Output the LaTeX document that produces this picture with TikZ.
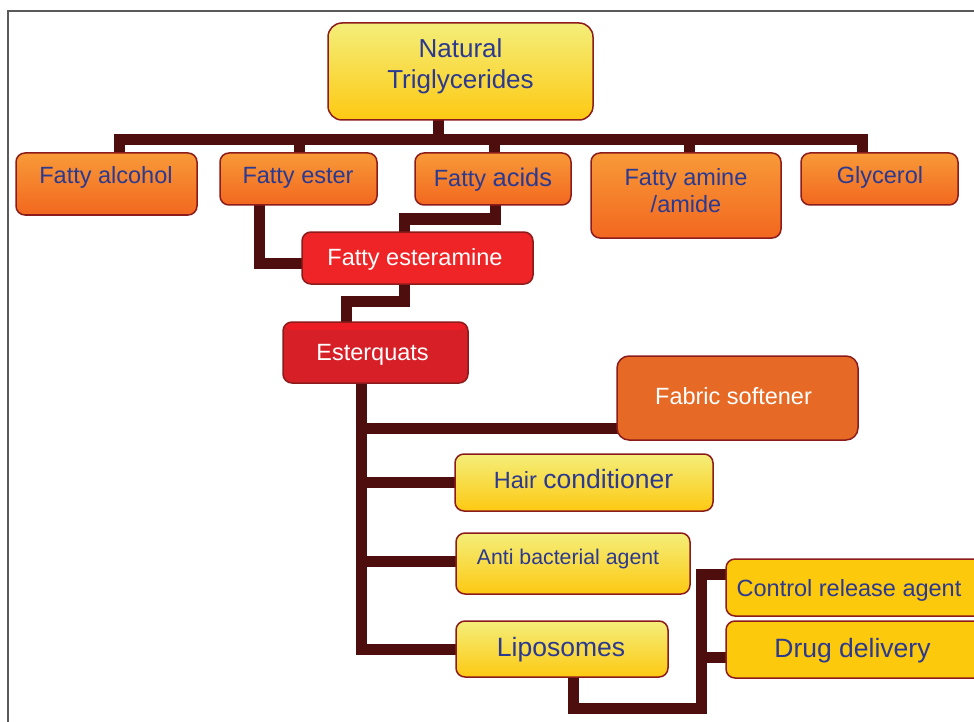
\documentclass[tikz,border=0pt]{standalone}
\usepackage{fontspec}
\setmainfont{Liberation Sans}
\usetikzlibrary{calc}
\definecolor{tblue}{HTML}{2B3990}
\definecolor{bord}{HTML}{8C1B1B}
\definecolor{conn}{HTML}{4E0E0E}
\definecolor{oTop}{HTML}{F89A38}
\definecolor{oBot}{HTML}{F2671F}
\definecolor{yTop}{HTML}{F4EE7A}
\definecolor{yBot}{HTML}{FDC912}
\definecolor{gold}{HTML}{FDC90C}
\definecolor{esred}{HTML}{EE2427}
\definecolor{eqred}{HTML}{D71F27}
\definecolor{eqtop}{HTML}{EC1C24}
\definecolor{fab}{HTML}{E66A26}
\definecolor{framec}{HTML}{5A5A5A}
\newcommand\mkbox[6]{%
  \node[#6, minimum width={(#4-#2)*1pt}, minimum height={(#5-#3)*1pt}]
    (#1) at ({(#2+#4)/2},{(#3+#5)/2}) {};}
\begin{document}
\begin{tikzpicture}[x=1pt,y=-1pt,
  box/.style={draw=bord, line width=1.5pt, rounded corners=9pt, inner sep=0pt},
  obox/.style={box, top color=oTop, bottom color=oBot},
  ybox/.style={box, top color=yTop, bottom color=yBot},
  gbox/.style={box, fill=gold},
  rbox/.style={box, fill=esred},
  eqbox/.style={box, fill=eqred, path picture={\fill[eqtop] (path picture bounding box.north west) rectangle ([yshift=-8pt]path picture bounding box.north east);}},
  fbox/.style={box, fill=fab},
  bt/.style={text=tblue, anchor=base, inner sep=0pt},
  wt/.style={text=white, anchor=base, inner sep=0pt},
  wire/.style={draw=conn, line width=11pt, line join=miter, line cap=butt},
  fnorm/.style={font=\fontsize{23.5}{28}\selectfont},
  fbig/.style={font=\fontsize{26.5}{31}\selectfont},
  fsmall/.style={font=\fontsize{21.3}{26}\selectfont}
]
\useasboundingbox (0,0) rectangle (974,722);
\clip (0,0) rectangle (974,722);
\fill[white] (0,0) rectangle (974,722);
\draw[framec, line width=1.6pt] (8,740) -- (8,11) -- (990,11);

% connection points
\coordinate (busL) at (119,140);
\coordinate (busR) at (862.5,140);

% connectors (drawn behind the boxes)
\draw[wire] (438.5,110) -- (438.5,140);
\draw[wire] (119,160) -- (busL) -- (busR) -- (862.5,160);
\draw[wire] (299,140) -- (299,160);
\draw[wire] (494.5,140) -- (494.5,160);
\draw[wire] (689,140) -- (689,160);
\draw[wire] (259,195) -- (259,263) -- (310,263);
\draw[wire] (495,195) -- (495,219) -- (404,219) -- (404,240);
\draw[wire] (404,275) -- (404,301) -- (346,301) -- (346,330);
\draw[wire] (361,375) -- (361,654.5);
\draw[wire] (355.5,428.5) -- (625,428.5);
\draw[wire] (361,482.5) -- (463,482.5);
\draw[wire] (361,561.5) -- (463,561.5);
\draw[wire] (355.5,649) -- (463,649);
\draw[wire] (573,670) -- (573,708.5) -- (701,708.5) -- (701,574.5) -- (734,574.5);
\draw[wire] (701,657.5) -- (734,657.5);

% boxes
\mkbox{root}{328}{23}{593}{120}{ybox,rounded corners=14pt}
\mkbox{falc}{16}{153}{197}{215}{obox}
\mkbox{fest}{220}{153}{377}{205}{obox}
\mkbox{facid}{415}{153}{571}{205}{obox}
\mkbox{famine}{591}{153}{781}{238}{obox}
\mkbox{glyc}{801}{153}{958}{205}{obox}
\mkbox{esam}{302}{232}{533}{284}{rbox}
\mkbox{esq}{283}{322}{468}{383}{eqbox}
\mkbox{fabric}{617}{356}{858}{440}{fbox,rounded corners=12pt}
\mkbox{hair}{455}{454}{713}{511}{ybox}
\mkbox{anti}{456}{533}{690}{594}{ybox}
\mkbox{lipo}{456}{621}{668}{677}{ybox}
\mkbox{ctrl}{726}{559}{990}{616}{gbox}
\mkbox{drug}{726}{621}{990}{678}{gbox}

% texts
\node[bt, anchor=center, align=center, font=\fontsize{26}{31}\selectfont] (roott) at (460.5,66.75) {Natural\\Triglycerides};
\node[bt, fnorm] (falct) at (106,184) {Fatty alcohol};
\node[bt, fnorm] (festt) at (298,184) {Fatty ester};
\node[bt, fnorm] (facidt) at (493,186) {Fatty {\fontsize{25.5}{30}\selectfont acids}};
\node[bt, anchor=center, align=center, font=\fontsize{23.5}{27}\selectfont] (faminet) at (686,190.6) {Fatty amine\\/amide};
\node[bt, fnorm] (glyct) at (880,184) {Glycerol};
\node[wt, fnorm] (esamt) at (415,265) {Fatty esteramine};
\node[wt, fnorm] (esqt) at (372.5,360) {Esterquats};
\node[wt, fnorm] (fabrict) at (733.5,404) {Fabric softener};
\node[bt, fnorm] (hairt) at (583.5,488) {Hair {\fontsize{26.5}{31}\selectfont conditioner}};
\node[bt, fsmall] (antit) at (568,564) {Anti bacterial agent};
\node[bt, fbig] (lipot) at (561,656) {Liposomes};
\node[bt, fnorm] (ctrlt) at (849,596) {Control release agent};
\node[bt, fbig] (drugt) at (852.5,657) {Drug delivery};
\end{tikzpicture}
\end{document}
